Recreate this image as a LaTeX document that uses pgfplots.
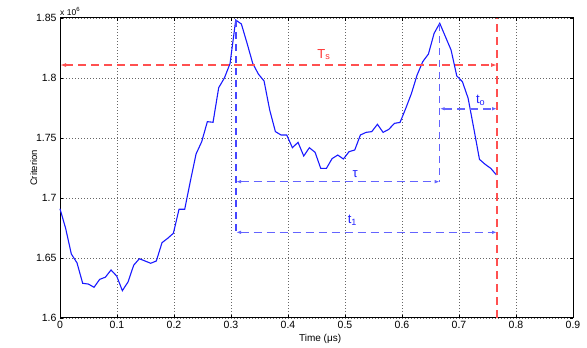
\documentclass[border=0pt]{standalone}
\usepackage{fontspec}
\setmainfont{Liberation Sans}
\usepackage{pgfplots}
\pgfplotsset{compat=1.18}
\usetikzlibrary{arrows.meta}
\definecolor{curveblue}{RGB}{25,25,255}
\definecolor{lred}{RGB}{255,80,80}
\definecolor{lblue}{RGB}{100,100,255}
\definecolor{mblue}{RGB}{70,70,255}
\definecolor{tred}{RGB}{255,50,50}
\definecolor{tblue}{RGB}{30,30,255}
\pgfplotstableread{
x y
0 1.691
0.0099 1.6747
0.0199 1.6533
0.0298 1.646
0.0398 1.6289
0.0497 1.6283
0.0597 1.6256
0.0696 1.6322
0.0796 1.634
0.0895 1.640
0.0994 1.635
0.1094 1.6228
0.1193 1.630
0.1293 1.644
0.1392 1.6494
0.1492 1.6475
0.1591 1.6456
0.1690 1.6475
0.1790 1.6628
0.1889 1.6664
0.1989 1.6706
0.2088 1.6906
0.2188 1.6906
0.2287 1.714
0.2387 1.7367
0.2486 1.7469
0.2585 1.7636
0.2685 1.7631
0.2784 1.7919
0.2884 1.8000
0.2983 1.8120
0.3083 1.8483
0.3182 1.845
0.3282 1.8289
0.3381 1.8122
0.3480 1.8033
0.3580 1.7975
0.3679 1.7733
0.3779 1.7553
0.3878 1.7525
0.3978 1.7525
0.4077 1.7419
0.4176 1.7464
0.4276 1.735
0.4375 1.7419
0.4475 1.7381
0.4574 1.7247
0.4674 1.7247
0.4773 1.7328
0.4873 1.7358
0.4972 1.7325
0.5071 1.7386
0.5171 1.740
0.5270 1.7525
0.5370 1.7547
0.5469 1.7553
0.5569 1.7614
0.5668 1.7547
0.5768 1.7572
0.5867 1.7622
0.5966 1.763
0.6066 1.7747
0.6165 1.787
0.6265 1.8025
0.6364 1.8136
0.6464 1.820
0.6563 1.8372
0.6662 1.8456
0.6762 1.8344
0.6861 1.8233
0.6961 1.8017
0.7060 1.7969
0.7160 1.7831
0.7259 1.7581
0.7359 1.7322
0.7458 1.7281
0.7557 1.7247
0.7657 1.7192
}\crit
\begin{document}
\begin{tikzpicture}
\begin{axis}[
  scale only axis,
  width=513pt, height=300pt,
  xmin=0, xmax=0.9, ymin=1.6, ymax=1.85,
  xtick={0,0.1,...,0.9},
  ytick={1.6,1.65,1.7,1.75,1.8,1.85},
  yticklabels={1.6,1.65,1.7,1.75,1.8,1.85},
  xticklabels={0,0.1,0.2,0.3,0.4,0.5,0.6,0.7,0.8,0.9},
  tick align=inside,
  major tick length=3pt,
  grid=major,
  major grid style={black!60, dash pattern=on 0.6pt off 2.4pt},
  axis line style={line width=1pt},
  every tick/.style={black, line width=0.5pt},
  tick label style={font=\fontsize{10.5}{12}\selectfont},
  /pgf/number format/assume math mode=true,
  xlabel={Time (μs)},
  ylabel={Criterion},
  every axis x label/.style={at={(axis description cs:0.507,-0.07)},anchor=center,font=\fontsize{10}{11}\selectfont},
  every axis y label/.style={at={(axis description cs:-0.051,0.5)},anchor=center,rotate=90,font=\fontsize{9.5}{11}\selectfont},
  clip=false,
]
\addplot[curveblue, line width=1.1pt] table[x=x,y=y]{\crit};
% T_s arrow
\addplot[lred, line width=1.5pt, dash pattern=on 8pt off 5pt, {Latex[length=6pt,width=4pt]}-{Latex[length=6pt,width=4pt]}] coordinates {(0,1.8108) (0.7667,1.8108)};
\addplot[lred, line width=1.05pt, dash pattern=on 8pt off 5pt] coordinates {(0.7667,1.6) (0.7667,1.85)};
% verticals
\addplot[mblue, line width=1.1pt, dash pattern=on 7pt off 5pt] coordinates {(0.3088,1.8483) (0.3088,1.6714)};
\addplot[mblue!85!white, line width=1.4pt, dash pattern=on 7pt off 5pt] coordinates {(0.6662,1.845) (0.6662,1.7136)};
% tau
\addplot[lblue, line width=1.6pt, dash pattern=on 8pt off 5pt, {Latex[length=5pt,width=3.5pt]}-{Latex[length=5pt,width=3.5pt]}] coordinates {(0.3088,1.7136) (0.6662,1.7136)};
% t1
\addplot[lblue, line width=1.6pt, dash pattern=on 8pt off 5pt, {Latex[length=5pt,width=3.5pt]}-{Latex[length=5pt,width=3.5pt]}] coordinates {(0.3088,1.6714) (0.7667,1.6714)};
% to
\addplot[lblue, line width=1.6pt, dash pattern=on 8pt off 5pt, {Latex[length=5pt,width=3.5pt]}-{Latex[length=5pt,width=3.5pt]}] coordinates {(0.6662,1.7744) (0.7667,1.7744)};
\node[tred, font=\fontsize{13}{14}\selectfont] at (axis cs:0.463,1.8195) {T\textsubscript{s}};
\node[tblue, font=\fontsize{13}{14}\selectfont] at (axis cs:0.518,1.7195) {τ};
\node[tblue, font=\fontsize{13}{14}\selectfont] at (axis cs:0.513,1.6815) {t\textsubscript{1}};
\node[tblue, font=\fontsize{13}{14}\selectfont] at (axis cs:0.738,1.7815) {t\textsubscript{o}};
\node[anchor=south west, inner sep=0pt, font=\fontsize{8.5}{9}\selectfont] at (rel axis cs:0,1.008) {x 10\raisebox{3.5pt}{\fontsize{6}{7}\selectfont 6}};
\end{axis}
\path ([shift={(-60pt,-29pt)}]current axis.south west) rectangle ([shift={(14pt,18pt)}]current axis.north east);
\end{tikzpicture}
\end{document}
